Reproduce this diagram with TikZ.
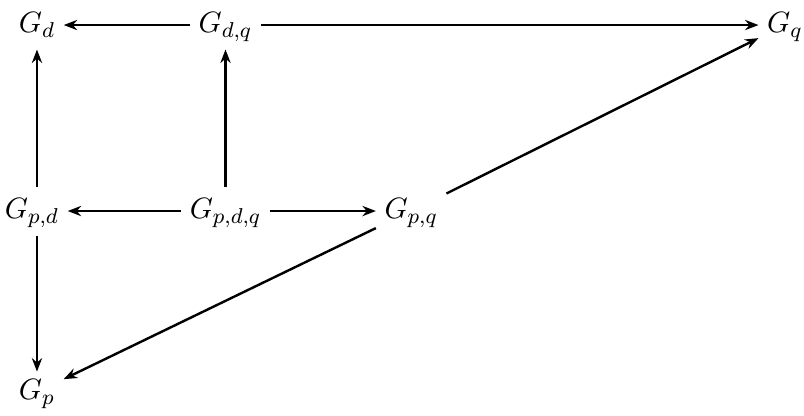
\documentclass[tikz,border=0pt,11pt]{standalone}
\usepackage{amsmath}
\usetikzlibrary{arrows.meta}
\tikzset{
  grp/.style={inner sep=3pt, text height=8.8pt, text depth=3pt},
  mapto/.style={-{Stealth[length=5pt,width=3.8pt]}, line width=0.9pt}
}

\begin{document}
\begin{tikzpicture}
  \useasboundingbox (0,0) rectangle (10.5,5.42);

  % Top row
  \node[grp] (Gd)  at (0.483,5.093) {$G_d$};
  \node[grp] (Gdq) at (2.945,5.093) {$G_{d,q}$};
  \node[grp] (Gq)  at (10.25,5.093) {$G_q$};

  % Middle row
  \node[grp] (Gpd)  at (0.418,2.664) {$G_{p,d}$};
  \node[grp] (Gpdq) at (2.945,2.664) {$G_{p,d,q}$};
  \node[grp] (Gpq)  at (5.37,2.664) {$G_{p,q}$};

  % Bottom row
  \node[grp, inner ysep=1.5pt] (Gp) at (0.483,0.30) {$G_p$};

  % Maps out of G_{d,q}
  \draw[mapto] (Gdq) -- (Gd);
  \draw[mapto] (Gdq) -- (Gq);

  % Maps out of G_{p,d}
  \draw[mapto] (Gpd.north -| Gd) -- (Gd);
  \draw[mapto] (Gpd.south -| Gp) -- (Gp);

  % Maps out of G_{p,d,q}
  \draw[mapto] (Gpdq) -- (Gdq);
  \draw[mapto] (Gpdq) -- (Gpd);
  \draw[mapto] (Gpdq) -- (Gpq);

  % Maps out of G_{p,q}
  \draw[mapto] (Gpq) -- (Gq);
  \draw[mapto] (Gpq) -- (Gp);
\end{tikzpicture}
\end{document}
